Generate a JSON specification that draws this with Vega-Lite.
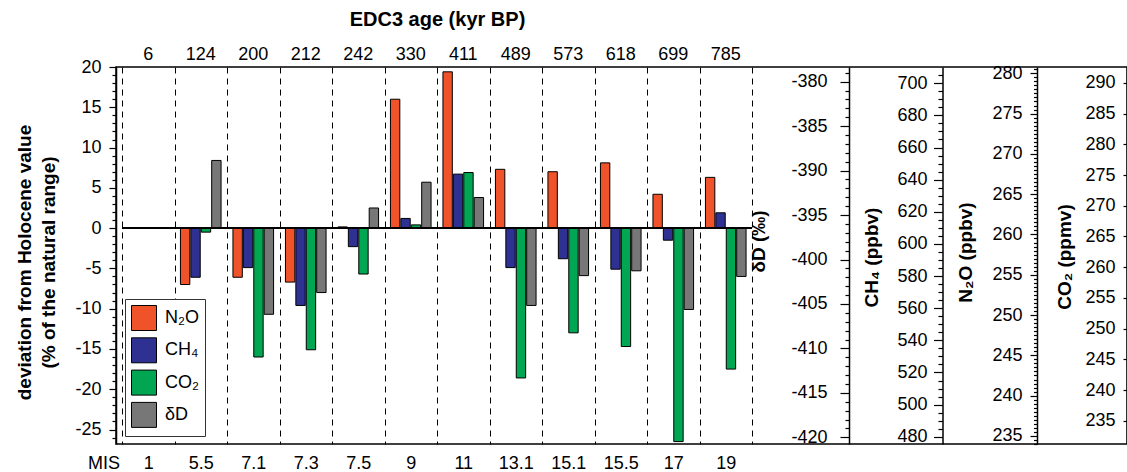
{
  "$schema": "https://vega.github.io/schema/vega-lite/v6.json",
  "width": 1011,
  "height": 377,
  "autosize": {"type": "none"},
  "padding": {"left": 116, "top": 67, "right": 0, "bottom": 28},
  "background": "white",
  "config": {
    "font": "Liberation Sans",
    "view": {"stroke": "black", "strokeWidth": 1.5},
    "axis": {
      "labelFont": "Liberation Sans", "titleFont": "Liberation Sans",
      "labelColor": "black", "titleColor": "black", "domainColor": "black", "tickColor": "black",
      "labelFontSize": 18, "titleFontSize": 19, "labelOverlap": false, "labelFlush": false, "labelBound": false,
      "domainWidth": 1.5, "tickWidth": 1.2
    }
  },
  "datasets": {
    "dev": [
      {"mis": 1, "age": 6, "gas": "N₂O", "dev": 0},
      {"mis": 1, "age": 6, "gas": "CH₄", "dev": 0},
      {"mis": 1, "age": 6, "gas": "CO₂", "dev": 0},
      {"mis": 1, "age": 6, "gas": "δD", "dev": 0},
      {"mis": 5.5, "age": 124, "gas": "N₂O", "dev": -7.0},
      {"mis": 5.5, "age": 124, "gas": "CH₄", "dev": -6.1},
      {"mis": 5.5, "age": 124, "gas": "CO₂", "dev": -0.5},
      {"mis": 5.5, "age": 124, "gas": "δD", "dev": 8.4},
      {"mis": 7.1, "age": 200, "gas": "N₂O", "dev": -6.1},
      {"mis": 7.1, "age": 200, "gas": "CH₄", "dev": -4.9},
      {"mis": 7.1, "age": 200, "gas": "CO₂", "dev": -16.0},
      {"mis": 7.1, "age": 200, "gas": "δD", "dev": -10.7},
      {"mis": 7.3, "age": 212, "gas": "N₂O", "dev": -6.7},
      {"mis": 7.3, "age": 212, "gas": "CH₄", "dev": -9.6},
      {"mis": 7.3, "age": 212, "gas": "CO₂", "dev": -15.1},
      {"mis": 7.3, "age": 212, "gas": "δD", "dev": -8.0},
      {"mis": 7.5, "age": 242, "gas": "N₂O", "dev": 0.15},
      {"mis": 7.5, "age": 242, "gas": "CH₄", "dev": -2.3},
      {"mis": 7.5, "age": 242, "gas": "CO₂", "dev": -5.7},
      {"mis": 7.5, "age": 242, "gas": "δD", "dev": 2.5},
      {"mis": 9, "age": 330, "gas": "N₂O", "dev": 16.0},
      {"mis": 9, "age": 330, "gas": "CH₄", "dev": 1.2},
      {"mis": 9, "age": 330, "gas": "CO₂", "dev": 0.4},
      {"mis": 9, "age": 330, "gas": "δD", "dev": 5.7},
      {"mis": 11, "age": 411, "gas": "N₂O", "dev": 19.4},
      {"mis": 11, "age": 411, "gas": "CH₄", "dev": 6.7},
      {"mis": 11, "age": 411, "gas": "CO₂", "dev": 6.9},
      {"mis": 11, "age": 411, "gas": "δD", "dev": 3.8},
      {"mis": 13.1, "age": 489, "gas": "N₂O", "dev": 7.3},
      {"mis": 13.1, "age": 489, "gas": "CH₄", "dev": -4.9},
      {"mis": 13.1, "age": 489, "gas": "CO₂", "dev": -18.6},
      {"mis": 13.1, "age": 489, "gas": "δD", "dev": -9.6},
      {"mis": 15.1, "age": 573, "gas": "N₂O", "dev": 7.0},
      {"mis": 15.1, "age": 573, "gas": "CH₄", "dev": -3.8},
      {"mis": 15.1, "age": 573, "gas": "CO₂", "dev": -13.0},
      {"mis": 15.1, "age": 573, "gas": "δD", "dev": -5.9},
      {"mis": 15.5, "age": 618, "gas": "N₂O", "dev": 8.1},
      {"mis": 15.5, "age": 618, "gas": "CH₄", "dev": -5.1},
      {"mis": 15.5, "age": 618, "gas": "CO₂", "dev": -14.7},
      {"mis": 15.5, "age": 618, "gas": "δD", "dev": -5.3},
      {"mis": 17, "age": 699, "gas": "N₂O", "dev": 4.2},
      {"mis": 17, "age": 699, "gas": "CH₄", "dev": -1.5},
      {"mis": 17, "age": 699, "gas": "CO₂", "dev": -26.5},
      {"mis": 17, "age": 699, "gas": "δD", "dev": -10.1},
      {"mis": 19, "age": 785, "gas": "N₂O", "dev": 6.3},
      {"mis": 19, "age": 785, "gas": "CH₄", "dev": 1.9},
      {"mis": 19, "age": 785, "gas": "CO₂", "dev": -17.5},
      {"mis": 19, "age": 785, "gas": "δD", "dev": -6.0}
    ],
    "holocene": [
      {"ref": "Holocene", "dev": 0, "dD": -396.5, "CH4": 610, "N2O": 260.8, "CO2": 266.4}
    ]
  },
  "layer": [
    {
      "data": {"name": "dev"},
      "mark": {"type": "bar", "stroke": "black", "strokeWidth": 1},
      "encoding": {
        "x": {
          "field": "mis", "type": "ordinal",
          "scale": {"range": [6, 636], "paddingInner": 0, "paddingOuter": 0},
          "axis": {
            "orient": "bottom", "title": "MIS", "grid": true, "tickBand": "extent",
            "gridDash": [6, 5], "gridColor": "black", "gridWidth": 1,
            "ticks": false, "tickSize": 0, "domain": false, "labelAngle": 0,
            "labelBaseline": "alphabetic", "labelPadding": 24,
            "titleX": -12.5, "titleY": 24, "titleAlign": "center", "titleBaseline": "alphabetic",
            "titleFontWeight": "normal", "titleFontSize": 18
          }
        },
        "xOffset": {
          "field": "gas", "type": "nominal", "sort": ["N₂O", "CH₄", "CO₂", "δD"],
          "scale": {"paddingInner": 0.1, "paddingOuter": 0.57}
        },
        "y": {
          "field": "dev", "type": "quantitative", "stack": null,
          "scale": {"domain": [-26.8, 20], "nice": false},
          "axis": {
            "orient": "left",
            "values": [-25,-20,-15,-10,-5,0,5,10,15,20],
            "labelExpr": "toString(datum.value)",
            "tickSize": 7, "labelPadding": 8, "grid": false,
            "title": ["deviation from Holocene value", "(% of the natural range)"],
            "titleFontWeight": "bold", "titleX": -92, "titleY": 195, "titleAngle": -90,
            "titleAlign": "center", "titleBaseline": "middle", "titleLineHeight": 24
          }
        },
        "color": {
          "field": "gas", "type": "nominal",
          "scale": {"domain": ["N₂O", "CH₄", "CO₂", "δD"], "range": ["#F0522A", "#2E3192", "#00A651", "#777777"]},
          "legend": {
            "orient": "none", "legendX": 9, "legendY": 232, "direction": "vertical", "title": null,
            "symbolType": "square", "symbolSize": 625, "symbolStrokeColor": "black", "symbolStrokeWidth": 1,
            "symbolOpacity": 1, "labelFontSize": 18, "labelFont": "Liberation Sans", "labelColor": "black",
            "labelOffset": 8, "rowPadding": 2.3, "padding": 6,
            "labelExpr": "datum.label + '\u00a0\u00a0\u00a0'",
            "strokeColor": "#333333", "fillColor": "white"
          }
        }
      }
    },
    {
      "data": {"name": "dev"},
      "mark": {"type": "bar", "stroke": "black", "strokeWidth": 2, "fill": "black"},
      "encoding": {
        "x": {
          "field": "age", "type": "ordinal",
          "scale": {"range": [6, 636], "paddingInner": 0, "paddingOuter": 0},
          "axis": {
            "orient": "top", "title": "EDC3 age (kyr BP)", "ticks": false, "tickSize": 0, "domain": false,
            "grid": false, "labelAngle": 0, "labelBaseline": "alphabetic", "labelPadding": 7.5,
            "titleFontWeight": "bold", "titleFontSize": 20, "titleX": 321, "titleY": -42,
            "titleBaseline": "alphabetic", "titleAlign": "center"
          }
        },
        "y": {"datum": 0, "type": "quantitative", "scale": {"domain": [-26.8, 20], "nice": false}, "axis": null},
        "y2": {"datum": 0}
      }
    },
    {
      "data": {"name": "holocene"},
      "mark": {"type": "point", "opacity": 0},
      "encoding": {
        "y": {
          "field": "dev", "type": "quantitative",
          "scale": {"domain": [-26.8, 20], "nice": false, "zero": false},
          "axis": {
            "orient": "left", "title": null, "labels": false, "domain": false, "grid": false,
            "values": [-26,-24,-23,-22,-21,-19,-18,-17,-16,-14,-13,-12,-11,-9,-8,-7,-6,-4,-3,-2,-1,1,2,3,4,6,7,8,9,11,12,13,14,16,17,18,19],
            "tickSize": 4
          }
        }
      }
    },
    {
      "data": {"name": "holocene"},
      "mark": {"type": "point", "opacity": 0},
      "encoding": {
        "y": {
          "field": "dD", "type": "quantitative",
          "scale": {"domain": [-420.75, -378.35], "nice": false, "zero": false},
          "axis": {
            "orient": "left", "offset": -733, "title": "δD (‰)",
            "values": [-420,-415,-410,-405,-400,-395,-390,-385,-380],
            "labelExpr": "toString(datum.value)",
            "tickSize": 9, "labelPadding": 13, "grid": false,
            "titleFontWeight": "bold", "titleX": -91, "titleY": 174, "titleAngle": -90,
            "titleAlign": "center", "titleBaseline": "middle"
          }
        }
      }
    },
    {
      "data": {"name": "holocene"},
      "mark": {"type": "point", "opacity": 0},
      "encoding": {
        "y": {
          "field": "dD", "type": "quantitative",
          "scale": {"domain": [-420.75, -378.35], "nice": false, "zero": false},
          "axis": {
            "orient": "left", "offset": -733, "title": null, "labels": false, "domain": false, "grid": false,
            "values": [-419,-418,-417,-416,-414,-413,-412,-411,-409,-408,-407,-406,-404,-403,-402,-401,-399,-398,-397,-396,-394,-393,-392,-391,-389,-388,-387,-386,-384,-383,-382,-381,-379],
            "tickSize": 4
          }
        }
      }
    },
    {
      "data": {"name": "holocene"},
      "mark": {"type": "point", "opacity": 0},
      "encoding": {
        "y": {
          "field": "CH4", "type": "quantitative",
          "scale": {"domain": [475.5, 710.1], "nice": false, "zero": false},
          "axis": {
            "orient": "left", "offset": -826.5, "title": "CH₄ (ppbv)",
            "values": [480,500,520,540,560,580,600,620,640,660,680,700],
            "labelExpr": "toString(datum.value)",
            "tickSize": 9, "labelPadding": 6.5, "grid": false,
            "titleFontWeight": "bold", "titleX": -71, "titleY": 190, "titleAngle": -90,
            "titleAlign": "center", "titleBaseline": "middle"
          }
        }
      }
    },
    {
      "data": {"name": "holocene"},
      "mark": {"type": "point", "opacity": 0},
      "encoding": {
        "y": {
          "field": "CH4", "type": "quantitative",
          "scale": {"domain": [475.5, 710.1], "nice": false, "zero": false},
          "axis": {
            "orient": "left", "offset": -826.5, "title": null, "labels": false, "domain": false, "grid": false,
            "values": [485,490,495,505,510,515,525,530,535,545,550,555,565,570,575,585,590,595,605,610,615,625,630,635,645,650,655,665,670,675,685,690,695,705],
            "tickSize": 4.5
          }
        }
      }
    },
    {
      "data": {"name": "holocene"},
      "mark": {"type": "point", "opacity": 0},
      "encoding": {
        "y": {
          "field": "N2O", "type": "quantitative",
          "scale": {"domain": [234.0, 280.78], "nice": false, "zero": false},
          "axis": {
            "orient": "left", "offset": -921, "title": "N₂O (ppbv)",
            "values": [235,240,245,250,255,260,265,270,275,280],
            "labelExpr": "toString(datum.value)",
            "tickSize": 7, "labelPadding": 8, "grid": false,
            "titleFontWeight": "bold", "titleX": -72, "titleY": 185, "titleAngle": -90,
            "titleAlign": "center", "titleBaseline": "middle"
          }
        }
      }
    },
    {
      "data": {"name": "holocene"},
      "mark": {"type": "point", "opacity": 0},
      "encoding": {
        "y": {
          "field": "N2O", "type": "quantitative",
          "scale": {"domain": [234.0, 280.78], "nice": false, "zero": false},
          "axis": {
            "orient": "left", "offset": -921, "title": null, "labels": false, "domain": false, "grid": false,
            "values": [234,234.5,235.5,236,236.5,237,237.5,238,238.5,239,239.5,240.5,241,241.5,242,242.5,243,243.5,244,244.5,245.5,246,246.5,247,247.5,248,248.5,249,249.5,250.5,251,251.5,252,252.5,253,253.5,254,254.5,255.5,256,256.5,257,257.5,258,258.5,259,259.5,260.5,261,261.5,262,262.5,263,263.5,264,264.5,265.5,266,266.5,267,267.5,268,268.5,269,269.5,270.5,271,271.5,272,272.5,273,273.5,274,274.5,275.5,276,276.5,277,277.5,278,278.5,279,279.5,280.5],
            "tickSize": 3.5
          }
        }
      }
    },
    {
      "data": {"name": "holocene"},
      "mark": {"type": "point", "opacity": 0},
      "encoding": {
        "y": {
          "field": "CO2", "type": "quantitative",
          "scale": {"domain": [231.24, 292.57], "nice": false, "zero": false},
          "axis": {
            "orient": "left", "offset": -1011, "title": "CO₂ (ppmv)",
            "values": [235,240,245,250,255,260,265,270,275,280,285,290],
            "labelExpr": "toString(datum.value)",
            "tickSize": 4, "labelPadding": 8, "grid": false,
            "titleFontWeight": "bold", "titleX": -63, "titleY": 189.5, "titleAngle": -90,
            "titleAlign": "center", "titleBaseline": "middle"
          }
        }
      }
    }
  ],
  "resolve": {
    "scale": {"x": "independent", "y": "independent"},
    "axis": {"x": "independent", "y": "independent"}
  }
}
